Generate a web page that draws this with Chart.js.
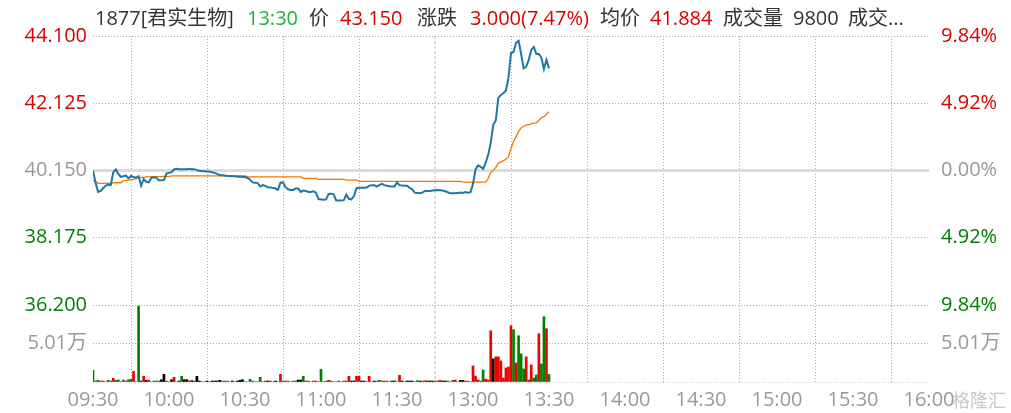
<!DOCTYPE html>
<html>
<head>
<meta charset="utf-8">
<title>1877 君实生物 分时</title>
<script src="https://cdn.jsdelivr.net/npm/chart.js@4.4.1/dist/chart.umd.min.js"></script>
<style>
  html, body { margin: 0; padding: 0; background: #fff; }
  #wrap { position: relative; width: 1011px; height: 413px; overflow: hidden; }
  #chart { position: absolute; left: 0; top: 0; }
  #head { position: absolute; left: 0; top: 8px; width: 1011px; height: 22px;
          font: 20px "Open Sans", "Noto Sans CJK SC", sans-serif; line-height: 20px; color: #333; white-space: nowrap; }
  #head span { position: absolute; top: 0; }
  .up { color: #d90000; }
  .tm { color: #1fb23c; }
  #mark { position: absolute; left: 952px; top: 386px; font: 18px "Noto Sans CJK SC", sans-serif; color: #c8c8c8; }
</style>
</head>
<body>
<div id="wrap">
  <canvas id="chart" width="1011" height="413"></canvas>
  <div id="head">
    <span style="left:95px">1877[君实生物]</span>
    <span class="tm" style="left:247px">13:30</span>
    <span style="left:309px">价</span>
    <span class="up" style="left:340px">43.150</span>
    <span style="left:417px">涨跌</span>
    <span class="up" style="left:470px">3.000(7.47%)</span>
    <span style="left:600px">均价</span>
    <span class="up" style="left:650px">41.884</span>
    <span style="left:723px">成交量</span>
    <span style="left:793px">9800</span>
    <span style="left:848px">成交...</span>
  </div>
  <div id="mark">格隆汇</div>
</div>
<script>
// previous close, axis ticks
const prevClose = 40.15;
const priceTicks = [36.2, 38.175, 40.15, 42.125, 44.1];
const pctTicks = [-9.84, -4.92, 0, 4.92, 9.84];
const volTicks = [0, 5.01, 10.02];
const timeLabels = ["09:30", "10:00", "10:30", "11:00", "11:30", "13:00", "13:30", "14:00", "14:30", "15:00", "15:30", "16:00"];

// one value per minute from 09:30 (index 0) to 13:30 (index 180)
const price = [
  40.15, 39.80, 39.52, 39.55, 39.63, 39.70, 39.74, 39.72, 40.10, 40.18,
  40.05, 39.96, 39.98, 40.00, 39.92, 39.99, 39.96, 39.94, 39.98, 39.70,
  39.90, 39.82, 39.80, 39.93, 39.95, 39.94, 39.86, 39.86, 39.87, 40.06,
  40.08, 40.10, 40.18, 40.20, 40.19, 40.19, 40.19, 40.19, 40.20, 40.19,
  40.19, 40.16, 40.14, 40.13, 40.13, 40.12, 40.12, 40.10, 40.08, 40.05,
  40.02, 40.01, 40.00, 39.99, 39.99, 39.98, 39.98, 39.97, 39.97, 39.96,
  39.96, 39.93, 39.88, 39.80, 39.79, 39.78, 39.68, 39.72, 39.70, 39.66,
  39.65, 39.64, 39.62, 39.58, 39.79, 39.80, 39.66, 39.60, 39.58, 39.58,
  39.62, 39.62, 39.52, 39.56, 39.55, 39.52, 39.52, 39.54, 39.50, 39.31,
  39.30, 39.29, 39.30, 39.46, 39.47, 39.45, 39.27, 39.27, 39.27, 39.28,
  39.44, 39.32, 39.30, 39.40, 39.63, 39.64, 39.64, 39.64, 39.65, 39.70,
  39.72, 39.72, 39.68, 39.72, 39.76, 39.72, 39.70, 39.69, 39.68, 39.68,
  39.80, 39.72, 39.71, 39.70, 39.70, 39.64, 39.60, 39.50, 39.49, 39.48,
  39.50, 39.55, 39.55, 39.55, 39.56, 39.57, 39.58, 39.57, 39.56, 39.54,
  39.51, 39.48, 39.48, 39.48, 39.49, 39.50, 39.49, 39.52, 39.50, 39.51,
  39.75, 40.18, 40.30, 40.26, 40.20, 40.37, 40.61, 40.96, 41.49, 41.62,
  42.28, 42.37, 42.42, 42.50, 42.87, 43.60, 43.63, 43.90, 43.96, 43.57,
  43.15, 43.20, 43.40, 43.69, 43.78, 43.57, 43.57, 43.46, 43.13, 43.40,
  43.15
];

const avgPrice = [
  39.85, 39.84, 39.77, 39.77, 39.77, 39.77, 39.77, 39.77, 39.79, 39.79,
  39.79, 39.79, 39.85, 39.86, 39.87, 39.88, 39.89, 39.91, 39.93, 39.95,
  39.95, 39.96, 39.96, 39.97, 39.97, 39.97, 39.97, 39.97, 39.98, 39.98,
  39.98, 39.99, 39.99, 39.99, 39.99, 39.99, 39.99, 39.99, 39.99, 39.99,
  39.99, 39.99, 39.99, 39.99, 39.99, 39.99, 39.99, 39.99, 39.99, 39.99,
  39.99, 39.99, 39.99, 39.99, 39.99, 39.99, 39.99, 39.99, 39.99, 39.99,
  39.99, 39.96, 39.96, 39.96, 39.96, 39.96, 39.96, 39.96, 39.96, 39.96,
  39.96, 39.96, 39.96, 39.96, 39.96, 39.96, 39.96, 39.96, 39.96, 39.96,
  39.96, 39.96, 39.96, 39.92, 39.92, 39.92, 39.92, 39.92, 39.92, 39.89,
  39.89, 39.89, 39.89, 39.89, 39.89, 39.89, 39.89, 39.89, 39.89, 39.89,
  39.87, 39.87, 39.87, 39.87, 39.87, 39.83, 39.83, 39.83, 39.83, 39.83,
  39.83, 39.83, 39.83, 39.83, 39.83, 39.83, 39.83, 39.83, 39.83, 39.83,
  39.83, 39.83, 39.83, 39.83, 39.83, 39.83, 39.83, 39.83, 39.83, 39.83,
  39.83, 39.83, 39.83, 39.83, 39.83, 39.83, 39.83, 39.83, 39.83, 39.83,
  39.83, 39.83, 39.83, 39.83, 39.83, 39.83, 39.81, 39.81, 39.81, 39.81,
  39.81, 39.81, 39.81, 39.81, 39.81, 39.81, 39.92, 40.09, 40.16, 40.24,
  40.36, 40.40, 40.44, 40.48, 40.55, 40.80, 41.00, 41.15, 41.30, 41.40,
  41.45, 41.48, 41.50, 41.52, 41.54, 41.55, 41.62, 41.70, 41.73, 41.80,
  41.88
];

// volume in 万 shares
const volume = [
  1.52, 0.13, 0.22, 0.13, 0.13, 0, 0.22, 0.13, 0.48, 0.22,
  0.26, 0, 0.26, 0.13, 0.30, 0.35, 1.39, 0, 9.89, 0.13,
  0.74, 0.22, 0.26, 0, 0.13, 0.13, 0.13, 0.30, 1.00, 0.13,
  0, 0.30, 0.61, 0, 0.13, 0.74, 0.30, 0.30, 0.17, 0.17,
  0.13, 0.74, 0.13, 0, 0, 0.13, 0, 0.13, 0.13, 0.13,
  0.22, 0.13, 0.13, 0.13, 0, 0.13, 0, 0.13, 0.22, 0.30,
  0, 0, 0.35, 0.13, 0, 0, 0.61, 0, 0.13, 0.13,
  0.13, 0, 0.13, 0, 1.00, 0.13, 0.13, 0.13, 0, 0.13,
  0.13, 0.26, 0.26, 0.74, 0.13, 0.13, 0, 0.13, 0.13, 0,
  1.66, 0, 0.13, 0.22, 0.13, 0, 0, 0.13, 0, 0.13,
  0.13, 0.74, 0.13, 0.13, 0.74, 0.74, 0.13, 0.13, 0, 0.74,
  0, 0.13, 0.13, 0.22, 0.13, 0.13, 0.13, 0, 0.13, 0.13,
  0, 0.87, 0.13, 0, 0.13, 0.13, 0.13, 0, 0.17, 0.13,
  0.13, 0.17, 0.13, 0.13, 0.13, 0.13, 0.13, 0.22, 0.13, 0.13,
  0.13, 0, 0.22, 0.26, 0, 0.22, 0.22, 0.13, 0.13, 0,
  2.09, 0.78, 0.26, 0.13, 1.57, 0.39, 0.26, 6.67, 3.01, 3.27,
  3.27, 2.75, 0.52, 1.83, 1.96, 7.32, 6.80, 2.48, 6.02, 3.66,
  1.70, 3.27, 0.26, 2.22, 0.52, 0.92, 6.28, 2.35, 8.50, 6.93,
  0.98
];

// 1 = up tick, -1 = down tick, 0 = unchanged
const volDir = [
  -1, -1, -1, 1, 1, 0, -1, 1, 1, -1,
  -1, 0, -1, 1, -1, -1, 1, 0, -1, 0,
  1, 0, 1, 0, -1, -1, -1, 0, 0, 1,
  0, 0, 1, 0, 0, -1, 0, 0, 1, 0,
  -1, 0, 0, 0, 0, 0, 0, 0, 0, 0,
  0, -1, -1, -1, 0, 0, 0, 0, 0, 0,
  0, 0, -1, -1, 0, 0, -1, 0, 1, 0,
  1, 0, 0, 0, 1, -1, 1, -1, 0, -1,
  -1, 0, 0, -1, 1, -1, 0, 1, 1, 0,
  -1, 0, -1, 1, 1, 0, 0, -1, 0, 1,
  1, 1, 0, 0, 1, 1, 0, 0, 0, 1,
  0, 0, -1, -1, 1, 1, -1, 0, 0, 0,
  0, 1, 0, 0, 0, 0, 0, 0, -1, 0,
  -1, 1, 0, 0, 0, -1, 1, 1, 0, 0,
  -1, 0, -1, 1, 0, 0, 0, 1, -1, 0,
  1, 1, 1, -1, -1, 1, 1, 1, 0, 1,
  1, 1, 1, 1, 1, 1, -1, 1, -1, -1,
  -1, 1, 1, 1, -1, -1, 1, -1, -1, 1,
  -1
];

const RED = "#d90000";
const GREEN = "#008000";
const GREY = "#999999";
const FONT = { family: "'Open Sans', 'Noto Sans CJK SC', sans-serif", size: 20 };

function sideColor(diff) {
  if (diff > 0.0001) return RED;
  if (diff < -0.0001) return GREEN;
  return GREY;
}

const pricePoints = price.map((v, i) => ({ x: i, y: v }));
const avgPoints = avgPrice.map((v, i) => ({ x: i, y: v }));
const volPoints = volume.map((v, i) => ({ x: i, y: v }));
const volColors = volDir.map(d => d > 0 ? "#ee0000" : (d < 0 ? "#008000" : "#000000"));

const dotted = [1, 2];

new Chart(document.getElementById("chart"), {
  type: "line",
  data: {
    datasets: [
      {
        data: pricePoints,
        borderColor: "#1f77a4",
        borderWidth: 2,
        pointRadius: 0,
        yAxisID: "y"
      },
      {
        data: avgPoints,
        borderColor: "#f07800",
        borderWidth: 1.3,
        pointRadius: 0,
        yAxisID: "y"
      },
      {
        type: "bar",
        data: volPoints,
        backgroundColor: volColors,
        barThickness: 2,
        yAxisID: "yv"
      }
    ]
  },
  options: {
    responsive: false,
    animation: false,
    devicePixelRatio: 1,
    layout: { padding: { top: 36, left: 0, right: 0, bottom: 0 } },
    plugins: { legend: { display: false }, tooltip: { enabled: false } },
    scales: {
      x: {
        type: "linear",
        min: 0,
        max: 330,
        offset: false,
        afterBuildTicks: s => { s.ticks = timeLabels.map((t, i) => ({ value: i * 30 })); },
        afterFit: s => { s.height = 31; },
        ticks: {
          autoSkip: false,
          maxRotation: 0,
          padding: 6,
          color: GREY,
          font: FONT,
          callback: (v, i) => timeLabels[i]
        },
        grid: {
          drawTicks: false,
          color: ctx => ctx.tick && ctx.tick.value === 150 ? "#dddddd" : "#aaaaaa",
          lineWidth: ctx => ctx.tick && ctx.tick.value === 150 ? 2 : 1
        },
        border: { display: false, dash: ctx => ctx.tick && ctx.tick.value === 150 ? [3, 2] : dotted }
      },
      // left side: boxes on the left are stacked in reverse order, so volume is listed first
      yv: {
        type: "linear",
        position: "left",
        stack: "left",
        stackWeight: 77,
        min: volTicks[0],
        max: volTicks[2],
        afterBuildTicks: s => { s.ticks = volTicks.map(v => ({ value: v })); },
        afterFit: s => { s.width = 93; },
        ticks: {
          autoSkip: false,
          padding: 6,
          font: FONT,
          color: GREY,
          callback: v => v === volTicks[1] ? v.toFixed(2) + "万" : ""
        },
        grid: {
          drawTicks: false,
          color: ctx => ctx.tick && ctx.tick.value === 0 ? "#cccccc" : "#aaaaaa"
        },
        border: { display: false, dash: dotted }
      },
      y: {
        type: "linear",
        position: "left",
        stack: "left",
        stackWeight: 269,
        min: priceTicks[0],
        max: priceTicks[priceTicks.length - 1],
        afterBuildTicks: s => { s.ticks = priceTicks.map(v => ({ value: v })); },
        afterFit: s => { s.width = 93; },
        ticks: {
          autoSkip: false,
          padding: 6,
          font: FONT,
          color: ctx => sideColor(ctx.tick.value - prevClose),
          callback: v => v.toFixed(3)
        },
        grid: {
          drawTicks: false,
          color: ctx => ctx.tick && ctx.tick.value === prevClose ? "#dcdcdc" : "#aaaaaa",
          lineWidth: ctx => ctx.tick && ctx.tick.value === prevClose ? 3 : 1
        },
        border: { display: false, dash: ctx => ctx.tick && ctx.tick.value === prevClose ? [] : dotted }
      },
      yr: {
        type: "linear",
        position: "right",
        stack: "right",
        stackWeight: 269,
        min: pctTicks[0],
        max: pctTicks[pctTicks.length - 1],
        afterBuildTicks: s => { s.ticks = pctTicks.map(v => ({ value: v })); },
        afterFit: s => { s.width = 82; },
        ticks: {
          autoSkip: false,
          padding: 4,
          font: FONT,
          color: ctx => sideColor(ctx.tick.value),
          callback: v => Math.abs(v).toFixed(2) + "%"
        },
        grid: { display: false },
        border: { display: false }
      },
      yvr: {
        type: "linear",
        position: "right",
        stack: "right",
        stackWeight: 77,
        min: volTicks[0],
        max: volTicks[2],
        afterBuildTicks: s => { s.ticks = [{ value: volTicks[1] }]; },
        afterFit: s => { s.width = 82; },
        ticks: {
          autoSkip: false,
          padding: 4,
          font: FONT,
          color: GREY,
          callback: v => v.toFixed(2) + "万"
        },
        grid: { display: false },
        border: { display: false }
      }
    }
  }
});
</script>
</body>
</html>
